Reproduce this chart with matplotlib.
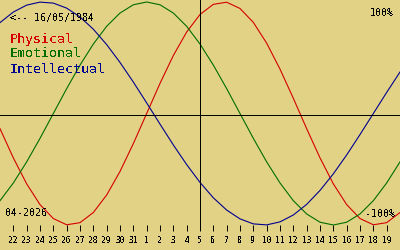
import matplotlib
matplotlib.use("Agg")
import matplotlib.pyplot as plt

# ================= Style =================
plt.rcParams['font.family'] = 'DejaVu Sans Mono'
plt.rcParams['text.antialiased'] = False

BG = "#E2D286"
colors = {
    "Physical": "#D40000",
    "Emotional": "#006E00",
    "Intellectual": "#000090",
}

# ================= Data =================
# days relative to today (05/04/2026), one value per day
days = list(range(-15, 16))

physical = [-0.136, -0.398, -0.631, -0.817, -0.942, -0.998, -0.979, -0.888,
            -0.731, -0.520, -0.270, 0.000, 0.270, 0.520, 0.731, 0.888,
            0.979, 0.998, 0.942, 0.817, 0.631, 0.398, 0.136, -0.136,
            -0.398, -0.631, -0.817, -0.942, -0.998, -0.979, -0.888]

emotional = [-0.782, -0.623, -0.434, -0.223, 0.000, 0.223, 0.434, 0.623,
             0.782, 0.901, 0.975, 1.000, 0.975, 0.901, 0.782, 0.623,
             0.434, 0.223, 0.000, -0.223, -0.434, -0.623, -0.782, -0.901,
             -0.975, -1.000, -0.975, -0.901, -0.782, -0.623, -0.434]

intellectual = [0.815, 0.910, 0.972, 0.999, 0.990, 0.945, 0.866, 0.756,
                0.618, 0.458, 0.282, 0.095, -0.095, -0.282, -0.458, -0.618,
                -0.756, -0.866, -0.945, -0.990, -0.999, -0.972, -0.910, -0.815,
                -0.690, -0.541, -0.372, -0.189, 0.000, 0.189, 0.372]

tick_days = list(range(-14, 15))
tick_labels = ["22", "23", "24", "25", "26", "27", "28", "29", "30", "31",
               "1", "2", "3", "4", "5", "6", "7", "8", "9", "10", "11", "12",
               "13", "14", "15", "16", "17", "18", "19"]

series = {
    "Physical": physical,
    "Emotional": emotional,
    "Intellectual": intellectual,
}

# ================= Plot =================
fig = plt.figure(figsize=(4, 2.5), dpi=100, facecolor=BG)
ax = fig.add_axes([0, 19 / 250, 1, 231 / 250])
ax.set_facecolor(BG)

LW = 0.7  # ~1 px

for name, vals in series.items():
    ax.plot(days, vals, color=colors[name], linewidth=0.8)

# zero line sits slightly below the curve centre in the original
ax.axhline(-0.0135, color="black", linewidth=LW, antialiased=False)
ax.axvline(0, color="black", linewidth=LW, antialiased=False)

ax.set_xlim(-15, 15)
ax.set_ylim(-1.0538, 1.0179)
for s in ax.spines.values():
    s.set_visible(False)

ax.set_xticks(tick_days)
ax.set_xticklabels(tick_labels)
ax.set_yticks([])
ax.tick_params(axis="x", direction="in", length=4.3, width=LW,
               color="black", labelsize=5.8, pad=3.6)

# texts (positions in pixels of the 400x250 image)
def px_text(x, y, s, **kw):
    fig.text(x / 400, 1 - y / 250, s, va="baseline", **kw)

px_text(10, 21, "<-- 16/05/1984", fontsize=7.2, color="black")
px_text(10, 43, "Physical", fontsize=9.6, color=colors["Physical"])
px_text(10, 57, "Emotional", fontsize=9.6, color=colors["Emotional"])
px_text(10, 73, "Intellectual", fontsize=9.6, color=colors["Intellectual"])
px_text(5, 216, "04-2026", fontsize=7.2, color="black")
px_text(394, 16, "100%", fontsize=7.2, color="black", ha="right")
px_text(395, 217, "-100%", fontsize=7.2, color="black", ha="right")

fig.savefig("out.png", dpi=100, facecolor=BG)
